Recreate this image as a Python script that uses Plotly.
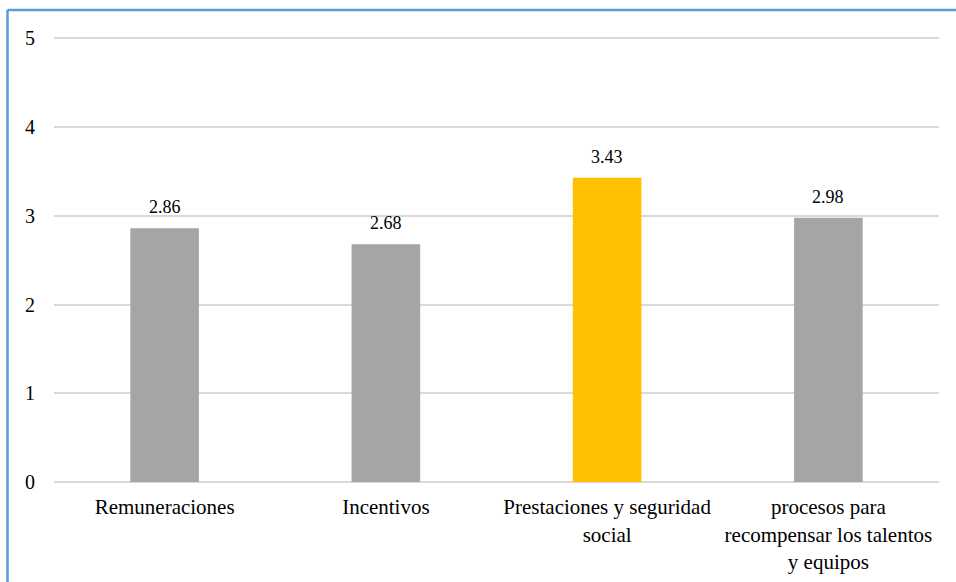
import plotly.graph_objects as go

categories = [
    "Remuneraciones",
    "Incentivos",
    "Prestaciones y seguridad<br>social",
    "procesos para<br>recompensar los talentos<br>y equipos",
]
values = [2.86, 2.68, 3.43, 2.98]
colors = ["#A5A5A5", "#A5A5A5", "#FFC000", "#A5A5A5"]
y_ticks = [0, 1, 2, 3, 4, 5]

font_family = "'Times New Roman', 'Liberation Serif', Tinos, serif"

fig = go.Figure(
    go.Bar(
        x=categories,
        y=values,
        marker=dict(color=colors, line=dict(width=0)),
        hoverinfo="skip",
    )
)

# value labels above each bar
for cat, val in zip(categories, values):
    fig.add_annotation(
        x=cat, y=val, text=f"{val:.2f}", showarrow=False,
        yanchor="bottom", yshift=9,
        font=dict(family=font_family, size=18, color="#000000"),
    )

L, R, T, B = 54, 17, 37, 100
W, H = 956, 582
pw, ph = W - L - R, H - T - B

# frame edges (left and top)
fig.add_shape(type="line", xref="paper", yref="paper",
              x0=(7.5 - L) / pw, x1=(W + 5 - L) / pw,
              y0=1 + (T - 10) / ph, y1=1 + (T - 10) / ph,
              line=dict(color="#5B9BD5", width=2.5))
fig.add_shape(type="line", xref="paper", yref="paper",
              x0=(7.5 - L) / pw, x1=(7.5 - L) / pw,
              y0=1 + (T - 10) / ph, y1=-(B + 5) / ph,
              line=dict(color="#5B9BD5", width=2.5))

fig.update_layout(
    width=W, height=H,
    margin=dict(l=L, r=R, t=T, b=B),
    paper_bgcolor="white", plot_bgcolor="white",
    bargap=0.69,
    showlegend=False,
    font=dict(family=font_family, size=21, color="#000000"),
    xaxis=dict(
        showgrid=False, showline=False, ticks="outside", ticklen=6,
        tickcolor="rgba(0,0,0,0)", tickfont=dict(family=font_family, size=21),
        automargin=False,
    ),
    yaxis=dict(
        range=[0, 5.016], tickvals=y_ticks, showgrid=True,
        gridcolor="#D9D9D9", gridwidth=1.5,
        zeroline=True, zerolinecolor="#D9D9D9", zerolinewidth=1.5,
        showline=False, ticks="outside", ticklen=14,
        tickcolor="rgba(0,0,0,0)", tickfont=dict(family=font_family, size=20),
        automargin=False,
    ),
)

fig.write_html("out.html")
